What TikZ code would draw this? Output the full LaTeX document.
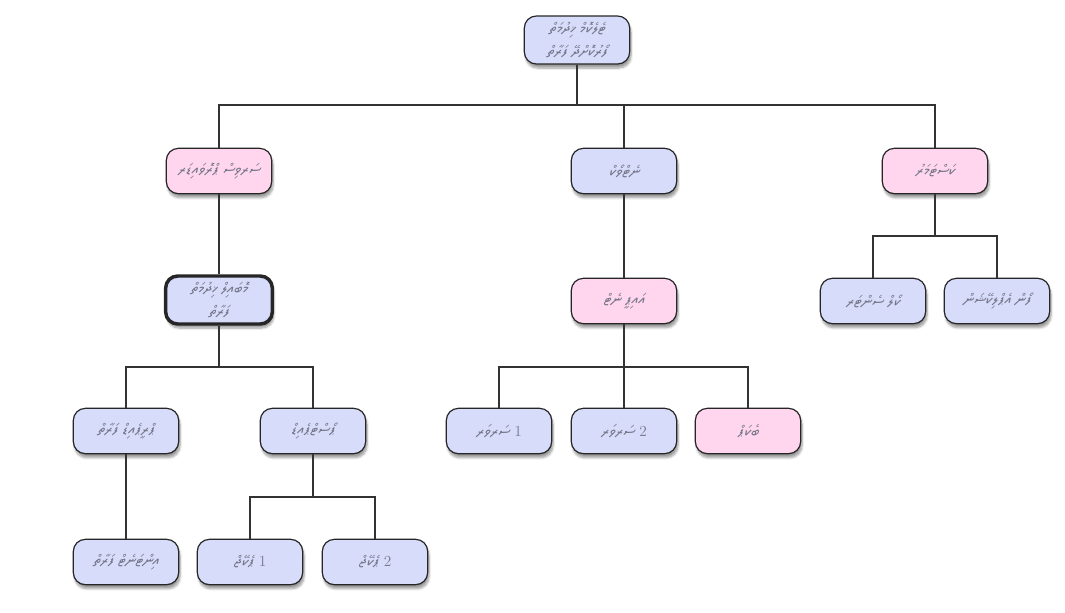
\documentclass[tikz,border=0pt]{standalone}
\usepackage{fontspec}
\usetikzlibrary{shadows.blur}
\TeXXeTstate=1
\IfFontExistsTF{Noto Sans Thaana}{\newfontfamily\thaana[Script=Thaana,FakeSlant=0.2]{Noto Sans Thaana}}{\IfFontExistsTF{MV Boli}{\newfontfamily\thaana[Script=Thaana]{MV Boli}}{\newfontfamily\thaana[Script=Thaana]{DejaVu Sans}}}
\definecolor{bluef}{HTML}{D6DCFA}
\definecolor{pinkf}{HTML}{FFD6EE}
\definecolor{txt}{HTML}{77778A}
\newcommand{\dv}[1]{{\thaana\beginR #1\endR}}
\tikzset{
 box/.style={draw=black!85,line width=0.9pt,rounded corners=9pt,minimum width=79pt,minimum height=34pt,align=center,text=txt,font=\fontsize{11.5}{17}\selectfont,blur shadow={shadow blur steps=6,shadow xshift=1pt,shadow yshift=-3pt}},
 bb/.style={box,fill=bluef},
 pb/.style={box,fill=pinkf},
 link/.style={draw=black!80,line width=0.9pt}
}
\begin{document}
\begin{tikzpicture}[x=0.75pt,y=-0.75pt]
\useasboundingbox (0,0) rectangle (1065,612);
\node[bb,minimum height=36pt] (root) at (577,40) {\dv{ޓެލެކޮމް ޚިދުމަތް}\\\dv{ފޯރުކޮށްދޭ ފަރާތް}};
\node[pb] (a) at (219,171) {\dv{ސަރވިސް ޕްރޮވައިޑަރ}};
\node[bb] (b) at (624,171) {\dv{ނެޓްވޯކް}};
\node[pb] (c) at (935,171) {\dv{ކަސްޓަމަރު}};
\node[bb,line width=2.6pt,minimum height=36pt,minimum width=80pt] (a1) at (219,300) {\dv{މޮބައިލް ޚިދުމަތް}\\\dv{ފަރާތް}};
\node[pb] (b1) at (624,301) {\dv{އައިޕީ ނެޓް}};
\node[bb] (c1) at (873,301) {\dv{ކޯލް ސެންޓަރ}};
\node[bb] (c2) at (997,301) {\dv{ފޯން އެޕްލިކޭޝަން}};
\node[bb] (a11) at (126,431) {\dv{ޕްރީޕެއިޑް ފަރާތް}};
\node[bb] (a12) at (313,431) {\dv{ޕޯސްޓްޕެއިޑް}};
\node[bb] (b11) at (499,431) {\dv{ސަރވަރ} 1};
\node[bb] (b12) at (624,431) {\dv{ސަރވަރ} 2};
\node[pb] (b13) at (748,431) {\dv{ބެކަޕް}};
\node[bb] (a111) at (126,562) {\dv{އިންޓަނެޓް ފަރާތް}};
\node[bb] (a121) at (250,562) {\dv{ޕެކޭޖް} 1};
\node[bb] (a122) at (375,562) {\dv{ޕެކޭޖް} 2};
\draw[link] (root.south) |- (a.north |- 0,105) -- (a.north);
\draw[link] (root.south) |- (c.north |- 0,105) -- (c.north);
\draw[link] (b.north |- 0,105) -- (b.north);
\draw[link] (a.south) -- (a1.north);
\draw[link] (b.south) -- (b1.north);
\draw[link] (c.south) -- (c.south |- 0,236) -| (c1.north);
\draw[link] (c.south |- 0,236) -| (c2.north);
\draw[link] (a1.south) -- (a1.south |- 0,367) -| (a11.north);
\draw[link] (a1.south |- 0,367) -| (a12.north);
\draw[link] (b1.south) -- (b12.north);
\draw[link] (b1.south |- 0,367) -| (b11.north);
\draw[link] (b1.south |- 0,367) -| (b13.north);
\draw[link] (a11.south) -- (a111.north);
\draw[link] (a12.south) -- (a12.south |- 0,497) -| (a121.north);
\draw[link] (a12.south |- 0,497) -| (a122.north);
\end{tikzpicture}
\end{document}
